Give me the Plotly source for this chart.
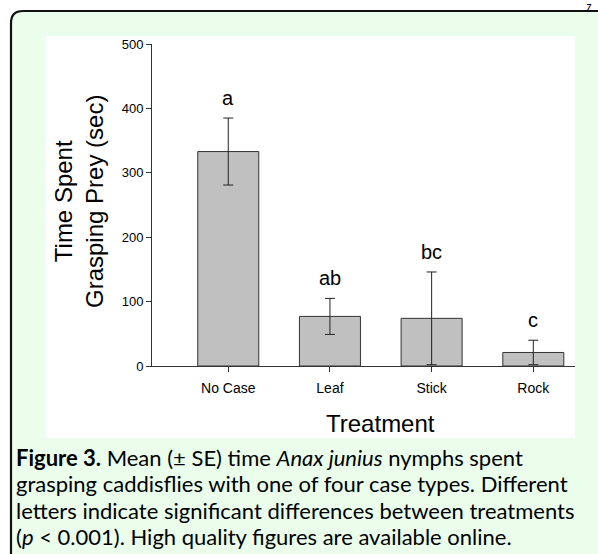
import plotly.graph_objects as go

# ---- data ----
categories = ["No Case", "Leaf", "Stick", "Rock"]
means = [333, 77, 74, 21]
se = [52, 28, 72, 19]
letters = ["a", "ab", "bc", "c"]
y_ticks = [0, 100, 200, 300, 400, 500]

caption_lines = [
    "<b>Figure 3.</b> Mean (± SE) time <i>Anax junius</i> nymphs spent",
    "grasping caddisflies with one of four case types. Different",
    "letters indicate significant differences between treatments",
    "(<i>p</i> &lt; 0.001). High quality figures are available online.",
]

# ---- page geometry (pixels) ----
W, H = 598, 554
L, R, T, B = 152, 575, 44, 366
PW, PH = R - L, B - T


def px(x):
    return (x - L) / PW


def py(y):
    return (B - y) / PH


fig = go.Figure()

fig.add_trace(go.Bar(
    x=list(range(len(categories))), y=means, width=0.6,
    marker=dict(color="#C0C0C0", line=dict(color="#333333", width=1)),
    error_y=dict(type="data", array=se, visible=True, color="#222222",
                 thickness=1, width=5),
    showlegend=False, hoverinfo="skip",
))

# significance letters above error bars
for i, (m, s, lt) in enumerate(zip(means, se, letters)):
    fig.add_annotation(x=i, y=m + s, xref="x", yref="y", text=lt,
                       showarrow=False, yanchor="bottom", yshift=7,
                       font=dict(family="Liberation Sans, Arial", size=20, color="#000"))

shapes = []
# green rounded box (extends past right/bottom of page)
r = 12
x0, y0 = 11, 11
path = (f"M {px(x0)},{py(H + 20)} L {px(x0)},{py(y0 + r)} "
        f"Q {px(x0)},{py(y0)} {px(x0 + r)},{py(y0)} "
        f"L {px(W + 20)},{py(y0)} L {px(W + 20)},{py(H + 20)} Z")
shapes.append(dict(type="path", path=path, xref="paper", yref="paper",
                   fillcolor="#EBFDEB", line=dict(color="#111111", width=2.2),
                   layer="below"))
# white chart panel
shapes.append(dict(type="rect", xref="paper", yref="paper",
                   x0=px(46), x1=px(575), y0=py(438), y1=py(36),
                   fillcolor="#FFFFFF", line=dict(width=0), layer="below"))
fig.update_layout(shapes=shapes)

# axis titles
fig.add_annotation(xref="paper", yref="paper", x=px(79), y=py(202),
                   text="Time Spent<br>Grasping Prey (sec)", textangle=-90,
                   showarrow=False, xanchor="center", yanchor="middle",
                   font=dict(family="Liberation Sans, Arial", size=24, color="#000"))
fig.add_annotation(xref="paper", yref="paper", x=px(380), y=py(423),
                   text="Treatment", showarrow=False,
                   xanchor="center", yanchor="middle",
                   font=dict(family="Liberation Sans, Arial", size=24, color="#000"))

# caption, one annotation per line
for k, line in enumerate(caption_lines):
    fig.add_annotation(xref="paper", yref="paper", x=px(14), y=py(457 + 26.5 * k),
                       text=line, showarrow=False, align="left",
                       xanchor="left", yanchor="middle",
                       font=dict(family="Lato", size=22, color="#000"))

# page-number fragment at top right
fig.add_annotation(xref="paper", yref="paper", x=px(589), y=py(0),
                   text="<b><i>7</i></b>", showarrow=False, xanchor="center", yanchor="top",
                   font=dict(family="Lato", size=9, color="#000"))

fig.update_xaxes(range=[-0.75, 3.41], tickmode="array",
                 tickvals=list(range(len(categories))), ticktext=categories,
                 showline=True, linecolor="#333333", linewidth=1,
                 ticks="outside", ticklen=5, tickcolor="#333333",
                 showgrid=False, zeroline=False, ticklabelstandoff=4,
                 tickfont=dict(family="Liberation Sans, Arial", size=14, color="#000"))
fig.update_yaxes(range=[0, 500], tickvals=y_ticks,
                 showline=True, linecolor="#333333", linewidth=1,
                 ticks="outside", ticklen=5, tickcolor="#333333",
                 showgrid=False, zeroline=False,
                 tickfont=dict(family="Liberation Sans, Arial", size=13, color="#000"))

fig.update_layout(width=W, height=H,
                  margin=dict(l=L, r=W - R, t=T, b=H - B, pad=0),
                  paper_bgcolor="#FFFFFF", plot_bgcolor="rgba(0,0,0,0)")

fig.write_html("out.html", config={"displayModeBar": False},
               post_script="document.body.style.margin='0';"
                           "document.body.style.overflow='hidden';")
